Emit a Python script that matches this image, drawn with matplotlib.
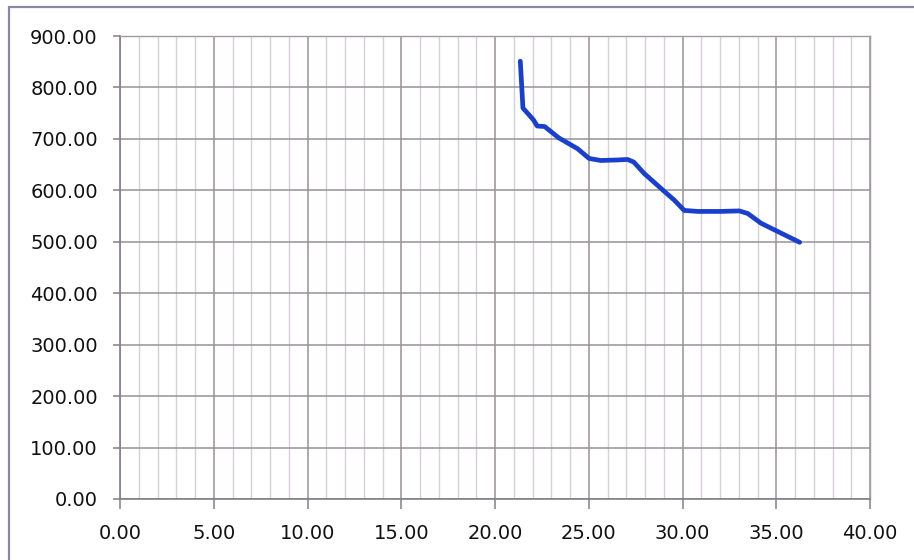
import matplotlib
matplotlib.use("Agg")
import matplotlib.pyplot as plt
from matplotlib.patches import Rectangle
from matplotlib.ticker import MultipleLocator, FormatStrFormatter

# Series values
x_vals = [21.35, 21.49, 22.05, 22.25, 22.65, 23.4, 24.4, 25.02, 25.64, 26.5,
          27.07, 27.4, 27.95, 29.06, 29.56, 30.09, 30.8, 32.0, 33.03, 33.48,
          34.19, 35.08, 36.25]
y_vals = [851, 760, 737, 725, 724, 702, 681, 662, 658, 659,
          660, 655, 633, 597, 581, 561, 559, 559, 560, 555,
          536, 520, 499]

x_ticks = [0, 5, 10, 15, 20, 25, 30, 35, 40]
y_ticks = [0, 100, 200, 300, 400, 500, 600, 700, 800, 900]

plt.rcParams['font.family'] = ['DejaVu Sans']

fig = plt.figure(figsize=(9.14, 5.60), dpi=100)
ax = fig.add_axes([120 / 914, 1 - 499 / 560, 750 / 914, 463 / 560])

ax.set_xlim(0, 40)
ax.set_ylim(0, 900)
ax.set_xticks(x_ticks)
ax.set_yticks(y_ticks)
ax.xaxis.set_minor_locator(MultipleLocator(1))
ax.xaxis.set_major_formatter(FormatStrFormatter('%.2f'))
ax.yaxis.set_major_formatter(FormatStrFormatter('%.2f'))

ax.grid(which='minor', axis='x', color='#d8d0d8', linewidth=1.0)
ax.grid(which='major', axis='x', color='#9a9099', linewidth=1.1)
ax.grid(which='major', axis='y', color='#9a9099', linewidth=1.1)
ax.set_axisbelow(True)

for side in ('top', 'right'):
    ax.spines[side].set_color('#a39ba3')
    ax.spines[side].set_linewidth(1.0)
for side in ('left', 'bottom'):
    ax.spines[side].set_color('#857d88')
    ax.spines[side].set_linewidth(1.2)

ax.tick_params(axis='x', which='major', direction='out', length=7,
               width=1.1, color='#857d88', pad=11, labelsize=14,
               labelcolor='#111111')
ax.tick_params(axis='x', which='minor', length=0)
ax.tick_params(axis='y', which='major', direction='out', length=5,
               width=1.1, color='#857d88', pad=11, labelsize=14,
               labelcolor='#111111')

ax.plot(x_vals, y_vals, color='#183fce', linewidth=3.4,
        solid_joinstyle='round', solid_capstyle='round')

# Outer chart frame
fig.patches.append(Rectangle((9 / 914, -0.05), 1.2, 1 - 7 / 560 + 0.05,
                             transform=fig.transFigure, fill=False,
                             edgecolor='#8a86a6', linewidth=1.6))

fig.savefig('out.png', dpi=100)
